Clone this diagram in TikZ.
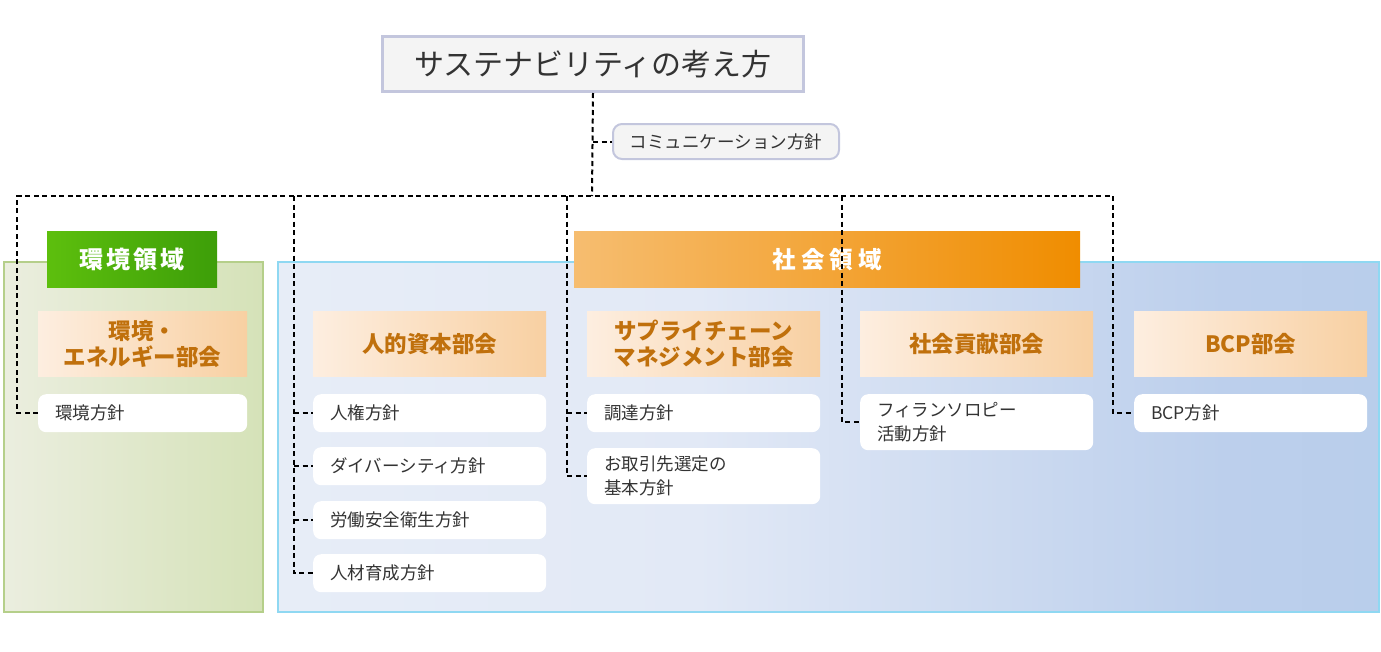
\documentclass[tikz,border=0pt]{standalone}
\usepackage{fontspec}
\setmainfont{Noto Sans CJK JP}
\definecolor{txt}{HTML}{333333}
\definecolor{cmt}{HTML}{C0700C}
\definecolor{cmtL}{HTML}{FDEEE0}
\definecolor{cmtR}{HTML}{F8D0A2}
\definecolor{envL}{HTML}{EBEEDF}
\definecolor{envR}{HTML}{D5E2B8}
\definecolor{envB}{HTML}{B5CF8A}
\definecolor{socB}{HTML}{8FD8F2}
\definecolor{socA}{HTML}{E7EDF7}
\definecolor{socM}{HTML}{E2E9F6}
\definecolor{socN}{HTML}{BCCFEC}
\definecolor{socZ}{HTML}{B9CEEB}
\definecolor{grL}{HTML}{5DBF0D}
\definecolor{grR}{HTML}{3D9E09}
\definecolor{orL}{HTML}{F6BD70}
\definecolor{orR}{HTML}{F08D00}
\definecolor{titB}{HTML}{C3C6DD}
\definecolor{titF}{HTML}{F4F4F4}
\pgfdeclarehorizontalshading{socshade}{100bp}{color(0bp)=(socA); color(25bp)=(socA); color(44bp)=(socM); color(68bp)=(socN); color(75bp)=(socZ); color(100bp)=(socZ)}
\tikzset{
  conn/.style={draw=black, line width=2pt, dash pattern=on 5pt off 3.5pt},
  policy/.style={fill=white, rounded corners=8pt, anchor=north west, minimum height=38pt,
    inner xsep=17pt, inner ysep=0pt, text width=199pt, align=left, text=txt,
    font=\fontsize{17.5}{24}\selectfont},
  cmtbox/.style={left color=cmtL, right color=cmtR, anchor=north west, minimum width=233pt,
    minimum height=65pt, inner sep=0pt, align=center, text=cmt,
    font=\fontsize{22.5}{26}\selectfont\bfseries},
}
\begin{document}
\begin{tikzpicture}[x=1pt,y=-1pt]
\useasboundingbox (0,0) rectangle (1381,651);
% regions
\node[draw=envB, line width=2pt, left color=envL, right color=envR, anchor=north west,
  minimum width=259pt, minimum height=350pt, inner sep=0pt] (envreg) at (3,261) {};
\node[draw=socB, line width=2pt, shading=socshade, anchor=north west,
  minimum width=1101pt, minimum height=350pt, inner sep=0pt] (socreg) at (277,261) {};
% region titles
\node[left color=grL, right color=grR, anchor=north west, minimum width=170pt, minimum height=56pt,
  inner sep=0pt, text=white, font=\fontsize{24}{28}\selectfont\bfseries] (envtitle) at (47,231)
  {環\hspace{3pt}境\hspace{3pt}領\hspace{3pt}域};
\node[left color=orL, right color=orR, anchor=north west, minimum width=506pt, minimum height=56pt,
  inner sep=0pt, text=white, font=\fontsize{23.5}{28}\selectfont\bfseries] (soctitle) at (574,231)
  {社\hspace{5pt}会\hspace{5pt}領\hspace{5pt}域};
% top
\node[draw=titB, line width=3pt, fill=titF, anchor=north west, minimum width=421pt, minimum height=55pt,
  inner sep=0pt, text=txt, font=\fontsize{30}{34}\selectfont] (title) at (381,35) {サステナビリティの考え方};
\node[draw=titB, line width=2pt, fill=titF, rounded corners=9pt, anchor=north west, minimum width=226pt,
  minimum height=35pt, inner sep=0pt, text=txt, font=\fontsize{17.5}{20}\selectfont] (comm) at (612,123)
  {コミュニケーション方針};
% committees
\node[cmtbox, minimum width=209pt] (envc) at (38,311) {環境・\\エネルギー部会};
\node[cmtbox] (hrc) at (313,311) {人的資本部会};
\node[cmtbox] (scc) at (587,311) {サプライチェーン\\マネジメント部会};
\node[cmtbox] (soc) at (860,311) {社会貢献部会};
\node[cmtbox] (bcpc) at (1134,311) {BCP部会};
% policies
\node[policy, text width=175pt] (env1) at (38,394) {環境方針};
\node[policy] (hr1) at (313,394) {人権方針};
\node[policy] (hr2) at (313,447) {ダイバーシティ方針};
\node[policy] (hr3) at (313,501) {労働安全衛生方針};
\node[policy] (hr4) at (313,554) {人材育成方針};
\node[policy] (sc1) at (587,394) {調達方針};
\node[policy, minimum height=56pt] (sc2) at (587,448) {お取引先選定の\\基本方針};
\node[policy, minimum height=56pt] (so1) at (860,394) {フィランソロピー\\活動方針};
\node[policy] (bcp1) at (1134,394) {BCP方針};
% connectors
\coordinate (hub) at (592,196);
\coordinate (tL) at (17,196);
\coordinate (tR) at (1113,196);
\coordinate (hrx) at (294,196);
\coordinate (scx) at (567,196);
\coordinate (sox) at (842,196);
\draw[conn] (title.south) -- (hub);
\draw[conn] (title.south |- comm.west) -- (comm.west);
\draw[conn] (env1.west) -| (tL) -- (tR) |- (bcp1.west);
\draw[conn] (hrx) |- (hr4.west);
\foreach \n in {hr1,hr2,hr3} \draw[conn] (hrx |- \n.west) -- (\n.west);
\draw[conn] (scx) |- (sc2.west);
\draw[conn] (scx |- sc1.west) -- (sc1.west);
\draw[conn] (sox) |- (so1.west);
\end{tikzpicture}
\end{document}
